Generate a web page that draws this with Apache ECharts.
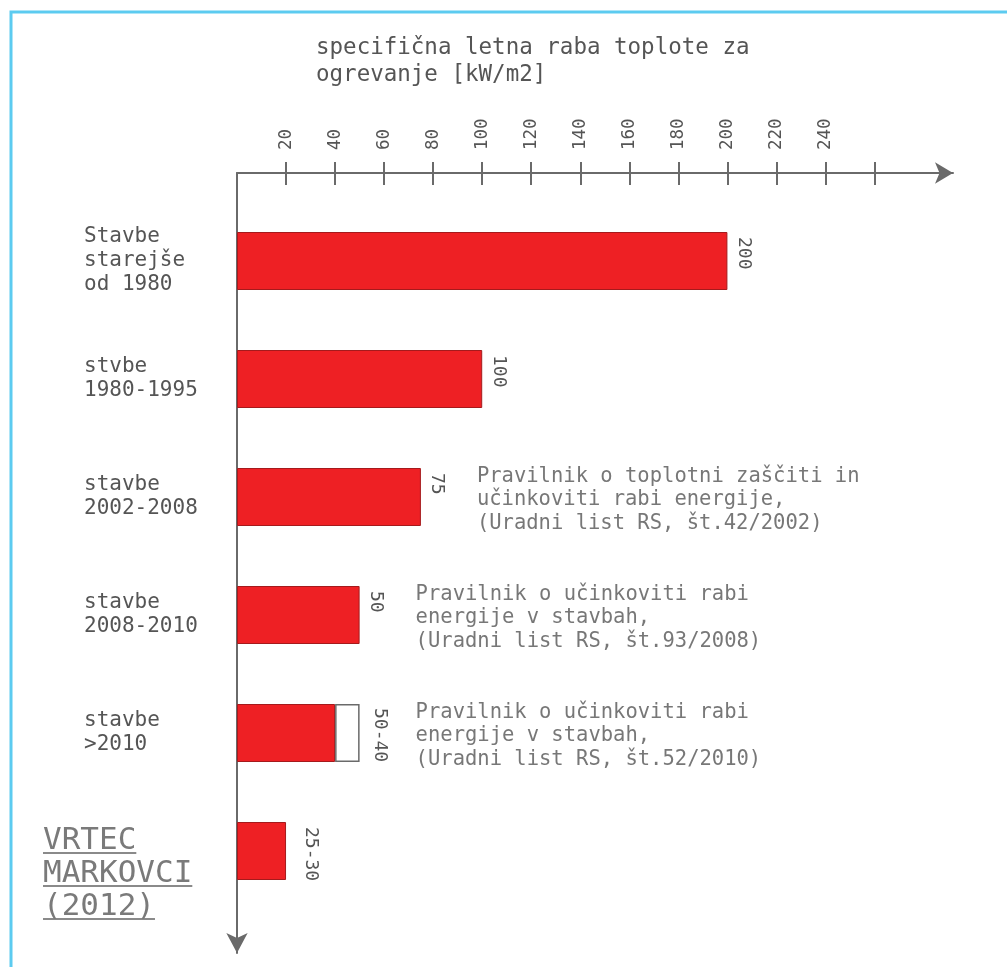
<!DOCTYPE html>
<html>
<head>
<meta charset="utf-8">
<script src="https://cdn.jsdelivr.net/npm/echarts@6/dist/echarts.min.js"></script>
<style>
html,body{margin:0;padding:0;background:#fff;}
#chart{width:1007px;height:967px;}
</style>
</head>
<body>
<div id="chart"></div>
<script>
// ---- data ----
const categories = ['Stavbe\nstarejše\nod 1980', 'stvbe\n1980-1995', 'stavbe\n2002-2008', 'stavbe\n2008-2010', 'stavbe\n>2010', 'VRTEC\nMARKOVCI\n(2012)'];
const baseValues = [200, 100, 75, 50, 40, 20];
const rangeValues = [null, null, null, null, 10, null];
const valueLabels = ['200', '100', '75', '50', '50-40', '25-30'];
const notes = [
  null,
  null,
  'Pravilnik o toplotni zaščiti in\nučinkoviti rabi energije,\n(Uradni list RS, št.42/2002)',
  'Pravilnik o učinkoviti rabi\nenergije v stavbah,\n(Uradni list RS, št.93/2008)',
  'Pravilnik o učinkoviti rabi\nenergije v stavbah,\n(Uradni list RS, št.52/2010)',
  null
];
const tickLabelValues = [20, 40, 60, 80, 100, 120, 140, 160, 180, 200, 220, 240];
const tickValues = [20, 40, 60, 80, 100, 120, 140, 160, 180, 200, 220, 240, 260];
const titleText = 'specifična letna raba toplote za\nogrevanje [kW/m2]';

// ---- styles ----
const FONT = '"DejaVu Sans Mono", monospace';
const TXT = '#555555';
const AX = '#6a6a6a';

function underline(stopA, stopB) {
  return new echarts.graphic.LinearGradient(0, 0, 0, 1, [
    { offset: 0, color: 'rgba(0,0,0,0)' },
    { offset: stopA, color: 'rgba(0,0,0,0)' },
    { offset: stopA, color: '#8a8a8a' },
    { offset: stopB, color: '#8a8a8a' },
    { offset: stopB, color: 'rgba(0,0,0,0)' },
    { offset: 1, color: 'rgba(0,0,0,0)' }
  ]);
}

const redData = baseValues.map((v, i) => {
  const item = { value: v };
  if (rangeValues[i] != null) item.label = { show: false };
  if (i === 5) item.label = { offset: [5, -25] };
  return item;
});
const whiteData = rangeValues.map(v => (v == null ? '-' : v));
const noteData = [];
notes.forEach((n, i) => {
  if (n) noteData.push({ value: [baseValues[i] + (rangeValues[i] || 0), i], note: n });
});

const barLabel = {
  show: true,
  position: ['100%', 0],
  rotate: -90,
  offset: [5, -16],
  align: 'left',
  verticalAlign: 'middle',
  fontFamily: FONT,
  fontSize: 18,
  color: TXT,
  formatter: p => valueLabels[p.dataIndex]
};

const chart = echarts.init(document.getElementById('chart'));
chart.setOption({
  backgroundColor: '#ffffff',
  animation: false,
  title: {
    text: titleText,
    left: 311,
    top: 30,
    textStyle: { fontFamily: FONT, fontSize: 22.5, lineHeight: 27, fontWeight: 'normal', color: TXT }
  },
  graphic: [{
    type: 'rect',
    shape: { x: 11, y: 12, width: 1200, height: 1200 },
    style: { fill: 'none', stroke: '#5ccbf0', lineWidth: 3 },
    silent: true
  }],
  grid: [
    { left: 237, top: 202, width: 716, height: 708 },
    { left: 237, top: 173, width: 716, height: 780 }
  ],
  xAxis: [
    {
      gridIndex: 0, type: 'value', position: 'top', offset: 29, min: 0, max: 292,
      axisLine: { show: true, symbol: ['none', 'arrow'], symbolSize: [16, 18], lineStyle: { color: AX, width: 2 } },
      axisTick: { show: true, inside: false, length: 11, customValues: tickValues, lineStyle: { color: AX, width: 2 } },
      axisLabel: { show: true, customValues: tickLabelValues, rotate: -90, margin: 23, fontFamily: FONT, fontSize: 17.5, color: TXT },
      splitLine: { show: false }
    },
    {
      gridIndex: 0, type: 'value', position: 'top', offset: 29, min: 0, max: 292,
      axisLine: { show: false },
      axisTick: { show: true, inside: true, length: 12, customValues: tickValues, lineStyle: { color: AX, width: 2 } },
      axisLabel: { show: false },
      splitLine: { show: false }
    },
    { gridIndex: 1, type: 'value', show: false, min: 0, max: 1 }
  ],
  yAxis: [
    {
      gridIndex: 0, type: 'category', data: categories, inverse: true,
      axisLine: { show: false }, axisTick: { show: false },
      axisLabel: {
        show: true, align: 'left', margin: 194, verticalAlign: 'middle',
        formatter: (value, index) => {
          if (index === 5) {
            const p = value.split('\n');
            return '{gap| }\n{v|' + p[0] + '}\n{v|' + p[1] + '}\n{v|' + p[2] + '}';
          }
          return value.split('\n').map(s => '{n|' + s + '}').join('\n');
        },
        rich: {
          n: { fontFamily: FONT, fontSize: 21, lineHeight: 24, color: TXT, padding: [0, 0, 0, 41] },
          gap: { fontSize: 10, lineHeight: 46 },
          v: { fontFamily: FONT, fontSize: 31, lineHeight: 33, color: '#7a7a7a', backgroundColor: underline(0.86, 0.92) }
        }
      },
      splitLine: { show: false }
    },
    {
      gridIndex: 1, type: 'value', min: 0, max: 1,
      axisLine: { show: true, onZero: false, symbol: ['arrow', 'none'], symbolSize: [16, 20], lineStyle: { color: AX, width: 2 } },
      axisTick: { show: false }, axisLabel: { show: false }, splitLine: { show: false }
    }
  ],
  series: [
    {
      type: 'bar', xAxisIndex: 0, yAxisIndex: 0, stack: 'v', barWidth: 58,
      data: redData,
      itemStyle: { color: '#ee2024', borderColor: '#a51a1c', borderWidth: 1 },
      label: barLabel
    },
    {
      type: 'bar', xAxisIndex: 0, yAxisIndex: 0, stack: 'v', barWidth: 58,
      data: whiteData,
      itemStyle: { color: '#ffffff', borderColor: '#6a6a6a', borderWidth: 1.5 },
      label: Object.assign({}, barLabel, { offset: [4, -20] })
    },
    {
      type: 'scatter', xAxisIndex: 0, yAxisIndex: 0, symbolSize: 0,
      data: noteData,
      label: {
        show: true, position: 'right', distance: 56, offset: [0, 3],
        fontFamily: FONT, fontSize: 20.5, lineHeight: 23.5, color: TXT,
        formatter: p => p.data.note
      }
    }
  ]
});
</script>
</body>
</html>
